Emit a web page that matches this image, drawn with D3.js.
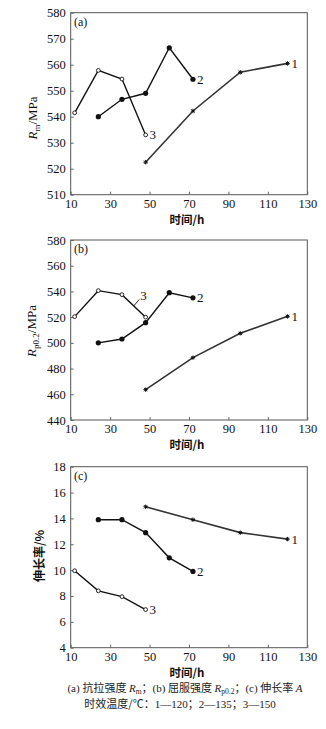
<!DOCTYPE html>
<html><head><meta charset="utf-8">
<script src="https://cdn.jsdelivr.net/npm/d3@7"></script>
<style>
body{margin:0;background:#fff;}
svg{display:block;}
</style></head>
<body>
<script>
// ---- data ----
const xTicks = [10, 30, 50, 70, 90, 110, 130];
const time1 = [48, 72, 96, 120];          // 1 — 120 ℃
const time2 = [24, 36, 48, 60, 72];       // 2 — 135 ℃
const time3 = [12, 24, 36, 48];           // 3 — 150 ℃

const rm1 = [522.5, 542.2, 557.1, 560.5];
const rm2 = [540, 546.7, 549, 566.5, 554.4];
const rm3 = [541.5, 557.8, 554.5, 533];
const rmTicks = [510, 520, 530, 540, 550, 560, 570, 580];

const rp1 = [463.6, 488.5, 507.4, 520.6];
const rp2 = [500, 503, 515.7, 539, 535];
const rp3 = [520.4, 540.6, 537.5, 520];
const rpTicks = [440, 460, 480, 500, 520, 540, 560, 580];

const el1 = [14.9, 13.9, 12.9, 12.4];
const el2 = [13.9, 13.9, 12.9, 10.95, 9.9];
const el3 = [9.95, 8.4, 7.95, 6.95];
const elTicks = [4, 6, 8, 10, 12, 14, 16, 18];

const seriesNames = ["1", "2", "3"];
const panelTags = ["(a)", "(b)", "(c)"];
const xTitle = "时间/h";

// ---- layout ----
const SERIF = "'Liberation Serif','Times New Roman',serif";
const CJK = "'Noto Sans CJK SC','Noto Sans CJK JP',sans-serif";
const W = 326, H = 729;
const left = 70.7, right = 307.3;
const panels = [
  {tag: panelTags[0], top: 12.7, h: 182, ticks: rmTicks, s: [rm1, rm2, rm3], ylab: "m", labY: 118, labX: 37},
  {tag: panelTags[1], top: 240, h: 180, ticks: rpTicks, s: [rp1, rp2, rp3], ylab: "p", labY: 331, labX: 36},
  {tag: panelTags[2], top: 466.7, h: 181, ticks: elTicks, s: [el1, el2, el3], ylab: "el", labY: 556, labX: 44}
];
const times = [time1, time2, time3];

const svg = d3.select("body").append("svg").attr("width", W).attr("height", H)
  .attr("font-family", SERIF);

const x = d3.scaleLinear().domain([10, 130]).range([left, right]);

panels.forEach((p, pi) => {
  const y = d3.scaleLinear().domain([p.ticks[0], p.ticks[p.ticks.length - 1]]).range([p.top + p.h, p.top]);
  const g = svg.append("g");

  // frame
  g.append("rect").attr("x", left).attr("y", p.top).attr("width", right - left).attr("height", p.h)
    .attr("fill", "none").attr("stroke", "#555").attr("stroke-width", 1);

  // axes
  const xa = g.append("g").attr("transform", `translate(0,${p.top + p.h})`)
    .call(d3.axisBottom(x).tickValues(xTicks).tickSize(-3).tickPadding(4).tickFormat(d3.format("d")));
  const ya = g.append("g").attr("transform", `translate(${left},0)`)
    .call(d3.axisLeft(y).tickValues(p.ticks).tickSize(-3).tickPadding(5).tickFormat(d3.format("d")));
  [xa, ya].forEach(a => {
    a.attr("font-family", SERIF).attr("font-size", 12.5);
    a.select(".domain").remove();
    a.selectAll(".tick line").attr("stroke", "#666");
    a.selectAll(".tick text").attr("fill", "#111");
  });

  // x title
  g.append("text").attr("x", 187).attr("y", p.top + p.h + 29).attr("text-anchor", "middle")
    .attr("font-family", CJK).attr("font-size", 11.5).attr("font-weight", "bold")
    .attr("fill", "#111").text(xTitle);

  // panel tag
  g.append("text").attr("x", 74).attr("y", p.top + 13).attr("font-size", 12).attr("fill", "#111").text(p.tag);

  // y label
  const yl = g.append("text").attr("transform", `translate(${p.labX},${p.labY}) rotate(-90)`)
    .attr("text-anchor", "middle").attr("fill", "#111").attr("font-size", 13);
  if (p.ylab === "m") {
    yl.append("tspan").attr("font-style", "italic").text("R");
    yl.append("tspan").attr("dy", 3).attr("font-size", 9).text("m");
    yl.append("tspan").attr("dy", -3).text("/MPa");
  } else if (p.ylab === "p") {
    yl.append("tspan").attr("font-style", "italic").text("R");
    yl.append("tspan").attr("dy", 3).attr("font-size", 9).text("p0.2");
    yl.append("tspan").attr("dy", -3).text("/MPa");
  } else {
    yl.attr("font-family", CJK).attr("font-size", 12).attr("font-weight", "bold").text("伸长率/%");
  }

  const line = d3.line().x(d => x(d[0])).y(d => y(d[1]));
  p.s.forEach((vals, si) => {
    const pts = times[si].map((t, i) => [t, vals[i]]);
    g.append("path").datum(pts).attr("d", line).attr("fill", "none")
      .attr("stroke", si === 0 ? "#333" : "#111").attr("stroke-width", si === 0 ? 1.6 : 1.4);
    const mk = g.selectAll(null).data(pts).enter();
    if (si === 0) {
      mk.append("path").attr("d", d => {
        const cx = x(d[0]), cy = y(d[1]), r = 2.2;
        return `M${cx - r},${cy}L${cx + r},${cy}M${cx},${cy - r}L${cx},${cy + r}M${cx - 1.6},${cy - 1.6}L${cx + 1.6},${cy + 1.6}M${cx - 1.6},${cy + 1.6}L${cx + 1.6},${cy - 1.6}`;
      }).attr("stroke", "#111").attr("stroke-width", 1);
    } else if (si === 1) {
      mk.append("circle").attr("cx", d => x(d[0])).attr("cy", d => y(d[1])).attr("r", 2.6).attr("fill", "#111");
    } else {
      mk.append("circle").attr("cx", d => x(d[0])).attr("cy", d => y(d[1])).attr("r", 1.9)
        .attr("fill", "#fff").attr("stroke", "#111").attr("stroke-width", 0.9);
    }
    const last = pts[pts.length - 1];
    if (pi === 1 && si === 2) {
      const ax = x(42), ay = y((vals[2] + vals[3]) / 2);
      g.append("line").attr("x1", ax).attr("y1", ay).attr("x2", ax + 5.5).attr("y2", ay - 6.5)
        .attr("stroke", "#111").attr("stroke-width", 0.9);
      g.append("text").attr("x", ax + 6.5).attr("y", ay - 6).attr("font-size", 13).attr("fill", "#111")
        .text(seriesNames[si]);
    } else {
      g.append("text").attr("x", x(last[0]) + 4).attr("y", y(last[1]) + 4.5)
        .attr("font-size", 13).attr("fill", "#111").text(seriesNames[si]);
    }
  });
});

// caption
const cap = svg.append("g").attr("fill", "#222").attr("font-size", 11);
const c1 = cap.append("text").attr("x", 185).attr("y", 692).attr("text-anchor", "middle");
c1.append("tspan").text("(a) ");
c1.append("tspan").attr("font-family", CJK).text("抗拉强度 ");
c1.append("tspan").attr("font-style", "italic").text("R");
c1.append("tspan").attr("dy", 2).attr("font-size", 7.5).text("m");
c1.append("tspan").attr("dy", -2).attr("font-family", CJK).text("；");
c1.append("tspan").text("(b) ");
c1.append("tspan").attr("font-family", CJK).text("屈服强度 ");
c1.append("tspan").attr("font-style", "italic").text("R");
c1.append("tspan").attr("dy", 2).attr("font-size", 7.5).text("p0.2");
c1.append("tspan").attr("dy", -2).attr("font-family", CJK).text("；");
c1.append("tspan").text("(c) ");
c1.append("tspan").attr("font-family", CJK).text("伸长率 ");
c1.append("tspan").attr("font-style", "italic").text("A");

const c2 = cap.append("text").attr("x", 180).attr("y", 708).attr("text-anchor", "middle");
c2.append("tspan").attr("font-family", CJK).text("时效温度/℃：");
c2.append("tspan").text("1—120");
c2.append("tspan").attr("font-family", CJK).text("；");
c2.append("tspan").text("2—135");
c2.append("tspan").attr("font-family", CJK).text("；");
c2.append("tspan").text("3—150");
</script>
</body></html>
